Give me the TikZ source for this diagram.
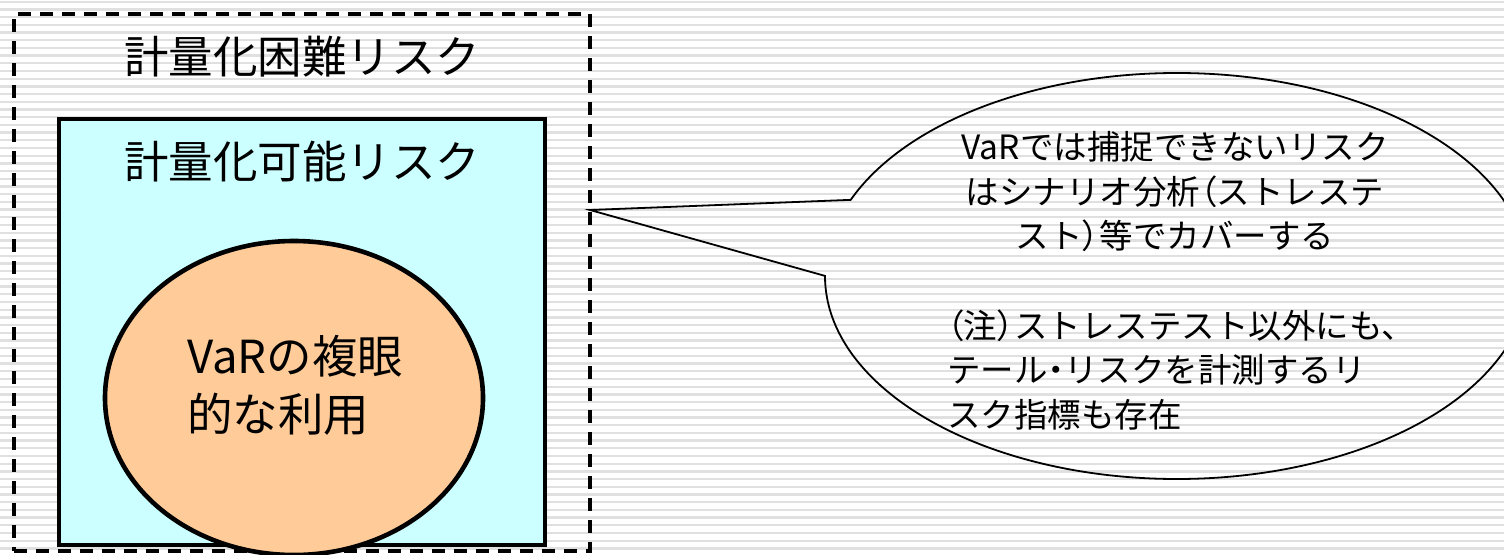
\documentclass[tikz,border=0pt]{standalone}
\usepackage{fontspec}
\setmainfont{Noto Sans CJK JP}
\newfontfamily\paltfont{Noto Sans CJK JP}[RawFeature=+palt]
\newcommand{\narrowchar}[1]{{\paltfont #1}}
\usetikzlibrary{shapes.callouts,shapes.geometric}
\definecolor{boxcyan}{HTML}{CCFFFF}
\definecolor{ovalorange}{HTML}{FFCC99}
\definecolor{stripegray}{HTML}{E0E0E0}
\tikzset{
  stripeline/.style={draw=stripegray, line width=2.3pt},
  outerbox/.style={draw=black, line width=3.6pt, dash pattern=on 13pt off 9pt, rectangle, inner sep=0pt},
  innerbox/.style={draw=black, fill=boxcyan, line width=4.6pt, rectangle, inner sep=0pt},
  varoval/.style={draw=black, fill=ovalorange, line width=4.6pt, ellipse, inner sep=0pt},
  bubble/.style={ellipse callout, draw=black, line width=1.8pt, inner sep=0pt},
  bigtext/.style={font=\fontsize{44.5}{58}\selectfont, inner sep=0pt},
  ovaltextstyle/.style={font=\fontsize{45.5}{58}\selectfont, inner sep=0pt},
  smalltext/.style={font=\fontsize{33.5}{44.5}\selectfont, inner sep=0pt}
}
\begin{document}
\begin{tikzpicture}[x=1pt,y=-1pt]
\useasboundingbox (0,0) rectangle (1504,554);
\clip (0,0) rectangle (1504,554);
\fill[white] (0,0) rectangle (1504,554);
\foreach \i in {0,...,72} {
  \draw[stripeline] (0,1.7+7.7*\i) -- (1504,1.7+7.7*\i);
}
% boxes
\node[outerbox, minimum width=576pt, minimum height=537pt] (outer) at (302,282.5) {};
\node[innerbox, minimum width=486pt, minimum height=426pt] (inner) at (302,332) {};
\node[varoval, minimum width=378pt, minimum height=314pt] (oval) at (294,398) {};
% texts
\node[bigtext] (outertitle) at (302,57) {計量化困難リスク};
\node[bigtext] (innertitle) at (302,162) {計量化可能リスク};
\node[ovaltextstyle, align=left, anchor=west] (ovaltext) at (187,385) {VaRの複眼\\的な利用};
% callout
\coordinate (tip) at (590,210);
\node[bubble, minimum width=704pt, minimum height=406pt, callout absolute pointer={(tip)}, callout pointer arc=22] (callout) at (1177,276) {};
\node[smalltext, align=center] (note1) at (1175,192) {VaRでは捕捉できないリスク\\はシナリオ分析\narrowchar{（}ストレステ\\スト\narrowchar{）}等でカバーする};
\node[smalltext, align=left, anchor=west] (note2) at (947,370) {\narrowchar{（}注\narrowchar{）}ストレステスト以外にも、\\テール\narrowchar{・}リスクを計測するリ\\スク指標も存在};
\end{tikzpicture}
\end{document}
